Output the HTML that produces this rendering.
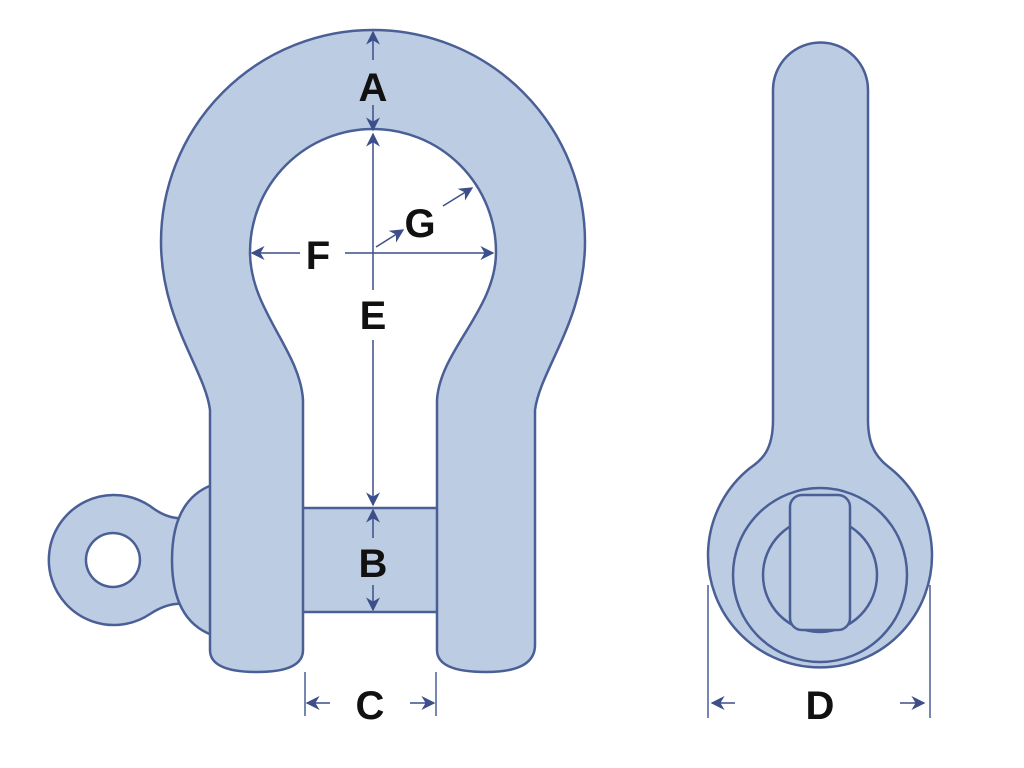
<!DOCTYPE html>
<html><head><meta charset="utf-8"><style>html,body{margin:0;padding:0;background:#fff}svg{display:block}text{font-family:"Liberation Sans",sans-serif;font-weight:bold;font-size:40px;fill:#111;text-anchor:middle}</style></head>
<body>
<svg width="1024" height="768" viewBox="0 0 1024 768" xmlns="http://www.w3.org/2000/svg">
<defs>
<marker id="ah" viewBox="0 0 10 10" refX="9" refY="5" markerWidth="14" markerHeight="14" markerUnits="userSpaceOnUse" orient="auto-start-reverse"><path d="M0,0 L10,5 L0,10 L3,5 z" fill="#3d4f8a"/></marker>
</defs>
<g fill="#bccde3" stroke="#4a5f96" stroke-width="2.5">
<path d="M113,495 A65,65 0 1 0 150,614 Q168,602 185,604 L185,518 Q168,520 150,506 A65,65 0 0 0 113,495 Z M113,533 A27,27 0 1 1 112.9,533 Z" fill-rule="evenodd"/>
<path d="M212,485 Q172,500 172,560 Q172,620 212,635 Z"/>
<rect x="300" y="508" width="140" height="104"/>
<path fill-rule="evenodd" d="M210,650 L210,410 C205,370 161,320 161,242 A212,212 0 0 1 373,30 A212,212 0 0 1 585,242 C585,320 540,370 535,410 L535,645 Q535,672 486,672 Q437,672 437,650 L437,400 C440,350 496,310 496,252 A123,123 0 0 0 250,252 C250,310 300,350 303,400 L303,650 Q303,672 257,672 Q210,672 210,650 Z"/>
<path d="M773,90 A47.5,47.5 0 0 1 868,90 L868,420 C868,450 880,460 890,468 A112,112 0 1 1 750,468 C762,460 773,450 773,420 Z"/>
<circle cx="820" cy="575" r="87" fill="none"/>
<circle cx="820" cy="575" r="57" fill="none"/>
<rect x="790" y="495" width="60" height="135" rx="12"/>
</g>
<g stroke="#4a5f96" stroke-width="1.5" fill="none">
<line x1="305" y1="672" x2="305" y2="716"/><line x1="436" y1="672" x2="436" y2="716"/>
<line x1="708" y1="585" x2="708" y2="718"/><line x1="930" y1="585" x2="930" y2="718"/>
</g>
<g stroke="#3d4f8a" stroke-width="1.5" fill="none" marker-end="url(#ah)" marker-start="url(#ah)">
<line x1="373" y1="32" x2="373" y2="60" marker-end="none"/>
<line x1="373" y1="105" x2="373" y2="130" marker-start="none"/>
<line x1="373" y1="134" x2="373" y2="290" marker-end="none"/>
<line x1="373" y1="340" x2="373" y2="505" marker-start="none"/>
<line x1="252" y1="253" x2="300" y2="253" marker-end="none"/>
<line x1="345" y1="253" x2="493" y2="253" marker-start="none"/>
<line x1="376" y1="247" x2="403" y2="230" marker-start="none"/>
<line x1="443" y1="206" x2="472" y2="188" marker-start="none"/>
<line x1="373" y1="510" x2="373" y2="538" marker-end="none"/>
<line x1="373" y1="585" x2="373" y2="610" marker-start="none"/>
<line x1="330" y1="703" x2="307" y2="703" marker-start="none"/>
<line x1="410" y1="703" x2="434" y2="703" marker-start="none"/>
<line x1="735" y1="703" x2="712" y2="703" marker-start="none"/>
<line x1="900" y1="703" x2="924" y2="703" marker-start="none"/>
</g>
<text x="373" y="101">A</text>
<text x="373" y="329">E</text>
<text x="318" y="269">F</text>
<text x="420" y="237">G</text>
<text x="373" y="577">B</text>
<text x="370" y="719">C</text>
<text x="820" y="719">D</text>
</svg>
</body></html>
